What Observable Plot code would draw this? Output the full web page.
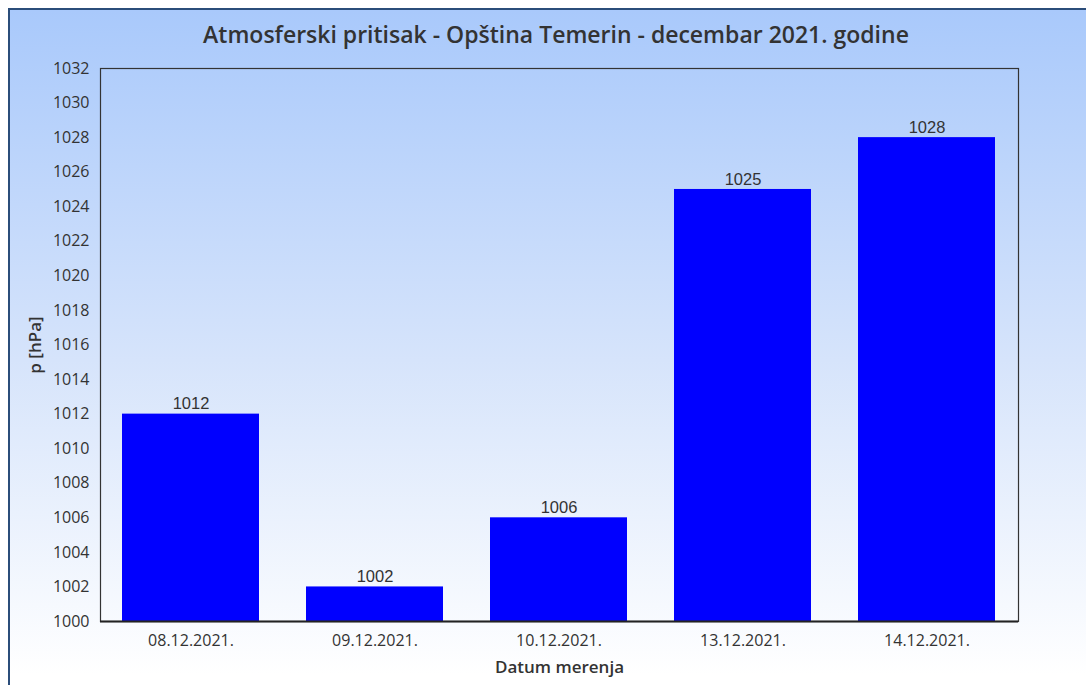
<!DOCTYPE html>
<html>
<head>
<meta charset="utf-8">
<script src="https://cdn.jsdelivr.net/npm/d3@7"></script>
<script src="https://cdn.jsdelivr.net/npm/@observablehq/plot@0.6"></script>
<style>
  html, body { margin: 0; padding: 0; background: #ffffff; overflow: hidden; }
  #panel {
    position: absolute; left: 8px; top: 8px; width: 1100px; height: 700px;
    border-left: 2px solid #2b4d7a; border-top: 2px solid #2b4d7a;
    background: linear-gradient(to bottom, #a9c9fb 0%, #d6e4fb 50%, #ffffff 95%);
  }
  #title {
    position: absolute; left: 0; top: 18px; width: 1112px; text-align: center;
    font-family: "Open Sans", sans-serif; font-weight: 600; font-size: 23px; color: #333;
  }
  #chart { position: absolute; left: 0; top: 50px; }
</style>
</head>
<body>
<div id="panel"></div>
<div id="title">Atmosferski pritisak - Opština Temerin - decembar 2021. godine</div>
<div id="chart"></div>
<script>
const dates = ["08.12.2021.", "09.12.2021.", "10.12.2021.", "13.12.2021.", "14.12.2021."];
const pressures = [1012, 1002, 1006, 1025, 1028];
const yTicks = d3.range(1000, 1033, 2);
const xLabel = "Datum merenja";
const yLabel = "p [hPa]";

const data = dates.map((d, i) => ({date: d, p: pressures[i]}));

const chart = Plot.plot({
  width: 1086,
  height: 640,
  marginLeft: 100,
  marginRight: 68,
  marginTop: 18,
  marginBottom: 69,
  style: {background: "transparent", fontFamily: "Open Sans, sans-serif", fontSize: "16px", color: "#333"},
  x: {domain: dates, paddingInner: 0.255, paddingOuter: 0.115, label: null},
  y: {domain: [1000, 1032], label: null},
  marks: [
    Plot.barY(data, {x: "date", y1: 1000, y2: "p", fill: "#0000ff"}),
    Plot.text(data, {x: "date", y: "p", text: d => String(d.p), dy: -10, fill: "#333",
      fontSize: 16.5, fontFamily: "Liberation Sans, Arial, sans-serif"}),
    Plot.axisX({tickSize: 0, tickPadding: 13, fontSize: 16, label: null}),
    Plot.axisY({ticks: yTicks, tickFormat: d => String(d), tickSize: 0, tickPadding: 11, fontSize: 16, label: null}),
    Plot.frame({stroke: "#333", strokeWidth: 1.2}),
    Plot.ruleY([1000], {stroke: "#222", strokeWidth: 2}),
    Plot.text([xLabel], {frameAnchor: "bottom", dy: 46, lineAnchor: "middle", textAnchor: "middle",
      fontWeight: 600, fontSize: 17, fill: "#333"}),
    Plot.text([yLabel], {frameAnchor: "left", dx: -65, rotate: -90, lineAnchor: "middle", textAnchor: "middle",
      fontWeight: 600, fontSize: 17, fill: "#333"})
  ]
});
document.getElementById("chart").appendChild(chart);
</script>
</body>
</html>
